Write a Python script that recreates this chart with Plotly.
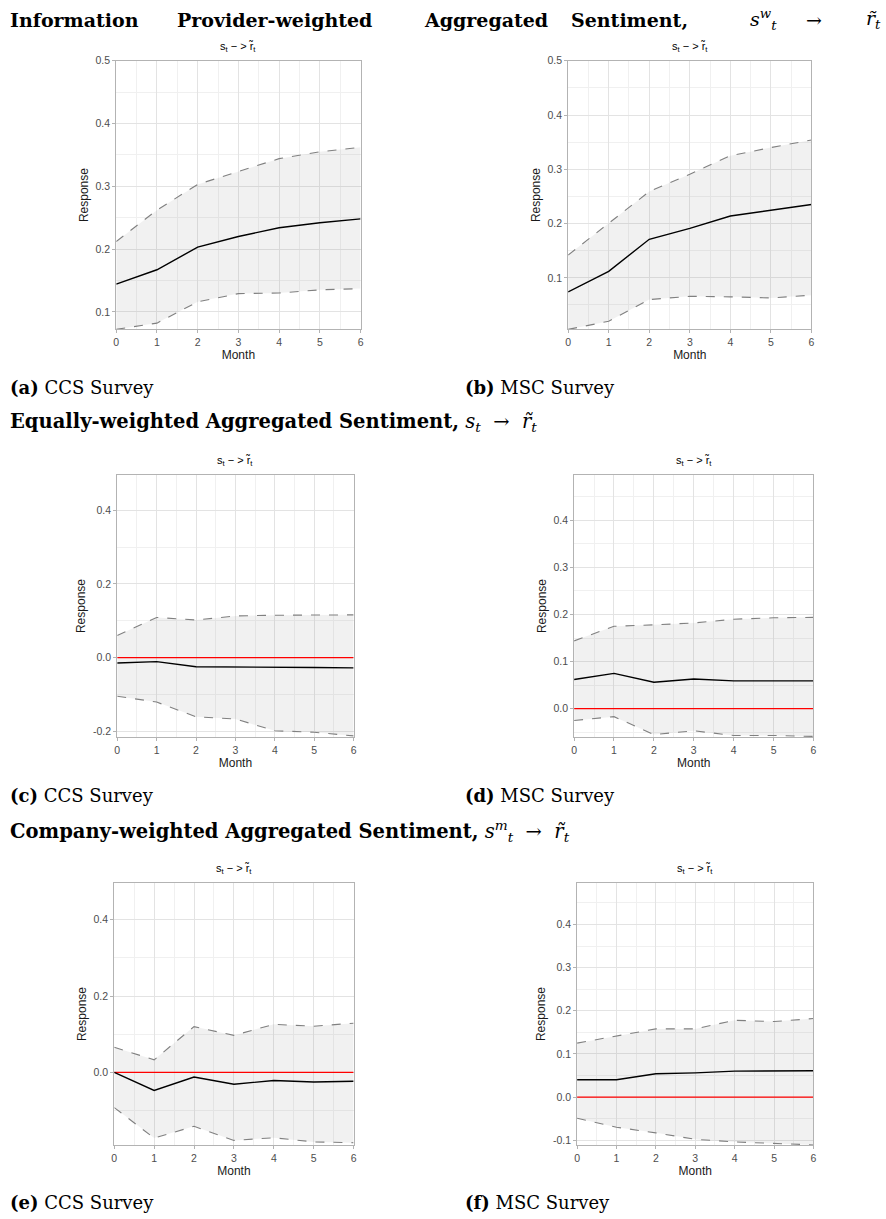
import plotly.graph_objects as go

# Impulse responses of returns to a sentiment shock, months 0..6
months = [0, 1, 2, 3, 4, 5, 6]

a_mean = [0.144, 0.167, 0.203, 0.220, 0.234, 0.242, 0.248]
a_upper = [0.212, 0.262, 0.303, 0.323, 0.344, 0.355, 0.362]
a_lower = [0.072, 0.082, 0.116, 0.129, 0.130, 0.135, 0.137]

b_mean = [0.074, 0.112, 0.171, 0.191, 0.214, 0.225, 0.235]
b_upper = [0.142, 0.200, 0.259, 0.291, 0.325, 0.340, 0.354]
b_lower = [0.005, 0.020, 0.060, 0.066, 0.065, 0.063, 0.068]

c_mean = [-0.015, -0.011, -0.025, -0.025, -0.027, -0.027, -0.028]
c_upper = [0.060, 0.109, 0.102, 0.113, 0.115, 0.116, 0.116]
c_lower = [-0.105, -0.121, -0.161, -0.167, -0.199, -0.203, -0.213]

d_mean = [0.062, 0.075, 0.056, 0.063, 0.059, 0.059, 0.059]
d_upper = [0.144, 0.175, 0.178, 0.182, 0.190, 0.193, 0.194]
d_lower = [-0.025, -0.017, -0.055, -0.047, -0.057, -0.057, -0.059]

e_mean = [0.000, -0.047, -0.012, -0.031, -0.021, -0.025, -0.023]
e_upper = [0.066, 0.033, 0.120, 0.097, 0.126, 0.121, 0.129]
e_lower = [-0.092, -0.172, -0.141, -0.178, -0.171, -0.182, -0.184]

f_mean = [0.040, 0.040, 0.054, 0.056, 0.060, 0.060, 0.061]
f_upper = [0.125, 0.142, 0.158, 0.158, 0.178, 0.175, 0.182]
f_lower = [-0.049, -0.070, -0.083, -0.098, -0.104, -0.107, -0.111]

y_ticks_a = [0.1, 0.2, 0.3, 0.4, 0.5]
y_ticks_b = [0.1, 0.2, 0.3, 0.4, 0.5]
y_ticks_c = [-0.2, 0.0, 0.2, 0.4]
y_ticks_d = [0.0, 0.1, 0.2, 0.3, 0.4]
y_ticks_e = [0.0, 0.2, 0.4]
y_ticks_f = [-0.1, 0.0, 0.1, 0.2, 0.3, 0.4]

panel_title = "s<sub>t</sub> \u2212 > r\u0303<sub>t</sub>"
captions = [("(a)", "CCS Survey"), ("(b)", "MSC Survey"),
            ("(c)", "CCS Survey"), ("(d)", "MSC Survey"),
            ("(e)", "CCS Survey"), ("(f)", "MSC Survey")]

W, H = 886, 1219

# panel boxes in pixels: left, right, top, bottom
panels = [
    dict(mean=a_mean, up=a_upper, lo=a_lower, ticks=y_ticks_a, step=0.1, rng=[0.072, 0.5],
         box=(114, 360, 55, 325), zero=False),
    dict(mean=b_mean, up=b_upper, lo=b_lower, ticks=y_ticks_b, step=0.1, rng=[0.005, 0.5],
         box=(569, 814, 55, 325), zero=False),
    dict(mean=c_mean, up=c_upper, lo=c_lower, ticks=y_ticks_c, step=0.2, rng=[-0.217, 0.497],
         box=(115, 353, 471, 735), zero=True),
    dict(mean=d_mean, up=d_upper, lo=d_lower, ticks=y_ticks_d, step=0.1, rng=[-0.061, 0.497],
         box=(575, 816, 471, 735), zero=True),
    dict(mean=e_mean, up=e_upper, lo=e_lower, ticks=y_ticks_e, step=0.2, rng=[-0.191, 0.497],
         box=(112, 353, 881, 1145), zero=True),
    dict(mean=f_mean, up=f_upper, lo=f_lower, ticks=y_ticks_f, step=0.1, rng=[-0.112, 0.497],
         box=(578, 816, 881, 1145), zero=True),
]

SANS = "Liberation Sans, Arial, sans-serif"
SERIF = "DejaVu Serif, serif"
BORDER = "#B3B3B3"
GRID = "#E3E3E3"
GRID_MINOR = "#F0F0F0"
NB = "\u00a0"

fig = go.Figure()
annotations = []
layout_axes = {}

for i, p in enumerate(panels):
    n = "" if i == 0 else str(i + 1)
    xa, ya = "x" + n, "y" + n
    L, R, T, B = p["box"]

    # confidence band
    fig.add_trace(go.Scatter(x=months, y=p["lo"], xaxis=xa, yaxis=ya, mode="lines",
                             line=dict(width=0), showlegend=False, hoverinfo="skip"))
    fig.add_trace(go.Scatter(x=months, y=p["up"], xaxis=xa, yaxis=ya, mode="lines",
                             line=dict(width=0), fill="tonexty",
                             fillcolor="rgba(128,128,128,0.11)", showlegend=False,
                             hoverinfo="skip"))
    if p["zero"]:
        fig.add_trace(go.Scatter(x=[months[0], months[-1]], y=[0, 0], xaxis=xa, yaxis=ya,
                                 mode="lines", line=dict(color="#FF0000", width=1.3),
                                 showlegend=False))
    for band in (p["up"], p["lo"]):
        fig.add_trace(go.Scatter(x=months, y=band, xaxis=xa, yaxis=ya, mode="lines",
                                 line=dict(color="#808080", width=1.1, dash="dash"),
                                 showlegend=False))
    fig.add_trace(go.Scatter(x=months, y=p["mean"], xaxis=xa, yaxis=ya, mode="lines",
                             line=dict(color="#000000", width=1.4), showlegend=False))

    axis_common = dict(showline=True, linecolor=BORDER, linewidth=1, mirror=True,
                       ticks="outside", ticklen=3, tickcolor=BORDER,
                       gridcolor=GRID, gridwidth=1, zeroline=False,
                       tickfont=dict(family=SANS, size=10.5, color="#4D4D4D"))
    layout_axes["xaxis" + n] = dict(
        axis_common, domain=[L / W, R / W], anchor=ya, range=[0, 6],
        tickmode="array", tickvals=months, ticktext=[str(m) for m in months],
        minor=dict(tickmode="linear", tick0=0.5, dtick=1, showgrid=True,
                   gridcolor=GRID_MINOR, gridwidth=1),
        title=dict(text="Month", font=dict(family=SANS, size=12, color="#1A1A1A"), standoff=0),
    )
    layout_axes["yaxis" + n] = dict(
        axis_common, domain=[1 - B / H, 1 - T / H], anchor=xa, range=p["rng"],
        tickmode="array", tickvals=p["ticks"], ticktext=[f"{v:.1f}" for v in p["ticks"]],
        minor=dict(tickmode="linear", tick0=p["step"] / 2, dtick=p["step"], showgrid=True,
                   gridcolor=GRID_MINOR, gridwidth=1),
        title=dict(text="Response", font=dict(family=SANS, size=12, color="#1A1A1A"), standoff=4),
    )

    annotations.append(dict(text=panel_title, xref="paper", yref="paper",
                            x=(L + R) / 2 / W, y=1 - (T - 14) / H, showarrow=False,
                            xanchor="center", yanchor="middle",
                            font=dict(family=SANS, size=11, color="#000000")))

# sub-figure captions
cap_pos = [(5, 383), (463, 383), (5, 793), (463, 793), (5, 1202), (463, 1202)]
for (lab, txt), (cx, cy) in zip(captions, cap_pos):
    annotations.append(dict(text=f"<b>{lab}</b> {txt}", xref="paper", yref="paper",
                            x=cx / W, y=1 - cy / H, xanchor="left", yanchor="middle",
                            showarrow=False, font=dict(family=SERIF, size=18, color="#000000")))

# section headings (first one is spread across the full line width)
head1 = [("<b>Information</b>", 5, "left"), ("<b>Provider-weighted</b>", 173, "left"),
         ("<b>Aggregated</b>", 422, "left"), ("<b>Sentiment,</b>", 570, "left"),
         ("<i>s</i><sup><i>w</i></sup><sub><i>t</i></sub>", 750, "left"),
         ("\u2192", 806, "left"), ("<i>r\u0303</i><sub><i>t</i></sub>", 886, "right")]
for txt, hx, anchor in head1:
    annotations.append(dict(text=txt, xref="paper", yref="paper", x=hx / W, y=1 - 14 / H,
                            xanchor=anchor, yanchor="middle", showarrow=False,
                            font=dict(family=SERIF, size=19, color="#000000")))

arrow = f"{NB}{NB}\u2192{NB}{NB}"
head2 = f"<b>Equally-weighted Aggregated Sentiment,</b>{NB}<i>s</i><sub><i>t</i></sub>{arrow}<i>r\u0303</i><sub><i>t</i></sub>"
head3 = f"<b>Company-weighted Aggregated Sentiment,</b>{NB}<i>s</i><sup><i>m</i></sup><sub><i>t</i></sub>{arrow}<i>r\u0303</i><sub><i>t</i></sub>"
for txt, hy in ((head2, 419), (head3, 829)):
    annotations.append(dict(text=txt, xref="paper", yref="paper", x=5 / W, y=1 - hy / H,
                            xanchor="left", yanchor="middle", showarrow=False,
                            font=dict(family=SERIF, size=19.5, color="#000000")))

fig.update_layout(width=W, height=H, margin=dict(l=0, r=0, t=0, b=0),
                  paper_bgcolor="white", plot_bgcolor="white", showlegend=False,
                  annotations=annotations, **layout_axes)

fig.write_html("out.html")
